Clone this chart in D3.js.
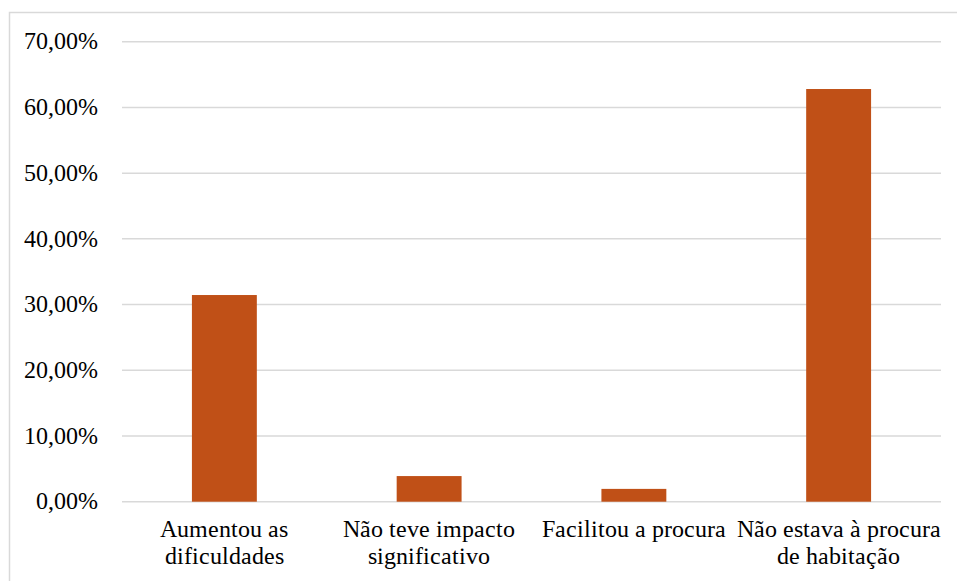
<!DOCTYPE html>
<html>
<head>
<meta charset="utf-8">
<script src="https://cdn.jsdelivr.net/npm/d3@7"></script>
<style>
  @font-face { font-family: "ChartSerif"; src: local("Liberation Serif"), local("LiberationSerif"), local("Times New Roman"); }
  svg { display: block; }
</style>
</head>
<body style="margin:0">
<svg id="s" width="957" height="581"></svg>
<script>
// ---- data ----
const categories = [
  "Aumentou as dificuldades",
  "Não teve impacto significativo",
  "Facilitou a procura",
  "Não estava à procura de habitação"
];
const categoryLabelLines = [
  ["Aumentou as", "dificuldades"],
  ["Não teve impacto", "significativo"],
  ["Facilitou a procura"],
  ["Não estava à procura", "de habitação"]
];
const values = [31.45, 3.9, 1.95, 62.8];
const yTicks = [0, 10, 20, 30, 40, 50, 60, 70];

const FONT = '"ChartSerif", "Liberation Serif", serif';

// ---- layout ----
const svg = d3.select("#s");
const plot = { left: 122, right: 941, top: 41.7, bottom: 501.7 };

// chart border (only top and left visible within viewport)
svg.append("path")
  .attr("d", "M9.5,581V12.5H957")
  .attr("fill", "none").attr("stroke", "#d9d9d9").attr("stroke-width", 1.5);

const x = d3.scaleBand()
  .domain(categories)
  .range([plot.left, plot.right])
  .paddingInner(0.683)
  .paddingOuter(0.3415);

const y = d3.scaleLinear()
  .domain([0, 70])
  .range([plot.bottom, plot.top]);

// gridlines
svg.append("g")
  .selectAll("line")
  .data(yTicks)
  .join("line")
  .attr("x1", plot.left).attr("x2", plot.right)
  .attr("y1", d => y(d)).attr("y2", d => y(d))
  .attr("stroke", "#d9d9d9").attr("stroke-width", 1.5);

// y axis labels
const fmt = d => d3.format(".2f")(d).replace(".", ",") + "%";
svg.append("g")
  .selectAll("text")
  .data(yTicks)
  .join("text")
  .attr("x", 98)
  .attr("y", d => y(d))
  .attr("dy", "0.33em")
  .attr("text-anchor", "end")
  .style("font-family", FONT)
  .style("font-size", "23.5px")
  .text(fmt);

// bars
svg.append("g")
  .selectAll("rect")
  .data(values)
  .join("rect")
  .attr("x", (d, i) => x(categories[i]))
  .attr("width", x.bandwidth())
  .attr("y", d => y(d))
  .attr("height", d => y(0) - y(d))
  .attr("fill", "#c05017");

// x axis labels
categories.forEach((c, i) => {
  const cx = x(c) + x.bandwidth() / 2;
  const t = svg.append("text")
    .attr("x", cx).attr("y", 537)
    .attr("text-anchor", "middle")
    .style("font-family", FONT)
    .style("font-size", "23.5px");
  categoryLabelLines[i].forEach((line, j) => {
    t.append("tspan").attr("x", cx).attr("y", 537 + j * 27).text(line);
  });
});
</script>
</body>
</html>
